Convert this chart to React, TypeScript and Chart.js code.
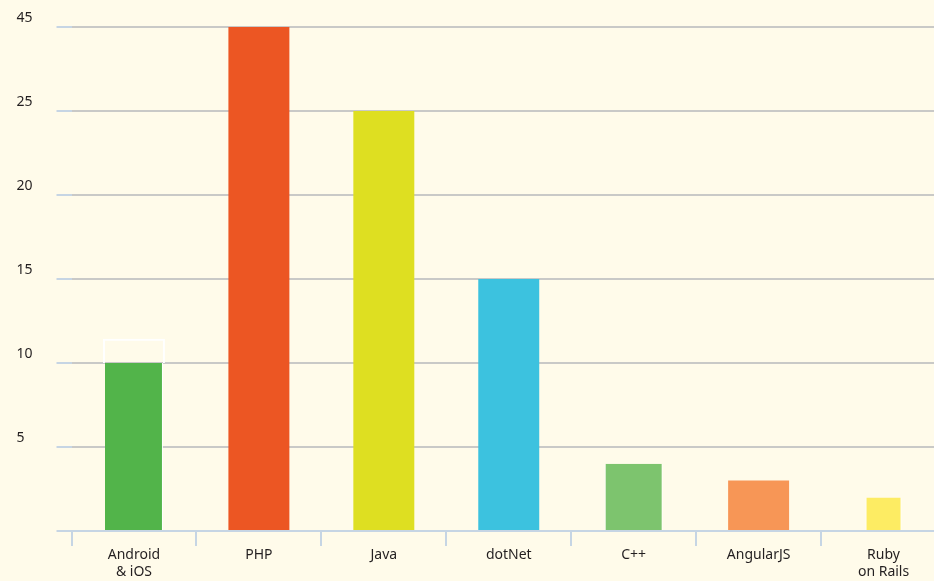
import React, { useEffect, useRef } from "react";
import { Chart, registerables } from "chart.js";

Chart.register(...registerables);

const categories: (string | string[])[] = [
  ["Android", "& iOS"],
  "PHP",
  "Java",
  "dotNet",
  "C++",
  "AngularJS",
  ["Ruby", "on Rails"],
];
const values = [10, 30, 25, 15, 4, 3, 2];
const barColors = ["#52B44A", "#EC5623", "#DEDF21", "#3CC2DF", "#7DC46E", "#F79656", "#FDEC63"];
const barWidthShares = [0.464, 0.488, 0.488, 0.488, 0.464, 0.488, 0.288];
// white outline drawn above the Android bar in the source picture
const androidOutline: [number, number] = [10, 11.45];
const yTickLabels: Record<number, string> = { 5: "5", 10: "10", 15: "15", 20: "20", 25: "25", 30: "45" };

const CREAM = "#FFFBEA";
const GRID = "#C9C9C7";
const BLUE = "#C6D5E4";
const TEXT = "#231F20";
const FONT = "'Noto Sans', sans-serif";

export default function App() {
  const ref = useRef<HTMLCanvasElement | null>(null);

  useEffect(() => {
    document.body.style.margin = "0";
    if (!ref.current) return;

    const datasets: any[] = categories.map((_, i) => ({
      data: values.map((v, j) => (j === i ? v : null)),
      backgroundColor: barColors[i],
      borderColor: "#FFFFFF",
      borderWidth: i === 0 ? { right: 1 } : i >= 4 && i !== 5 ? { left: 1, right: 1 } : 0,
      borderSkipped: false,
      barPercentage: barWidthShares[i],
      categoryPercentage: 1,
      grouped: false,
    }));
    datasets.push({
      data: values.map((_, j) => (j === 0 ? androidOutline : null)),
      backgroundColor: "rgba(0,0,0,0)",
      borderColor: "#FFFFFF",
      borderWidth: { left: 2, right: 2, top: 2, bottom: 0 },
      borderSkipped: false,
      barPercentage: 0.496,
      categoryPercentage: 1,
      grouped: false,
    });

    const bg = {
      id: "bg",
      beforeDraw(chart: any) {
        const c = chart.ctx;
        c.save();
        c.fillStyle = CREAM;
        c.fillRect(0, 0, chart.width, chart.height);
        c.restore();
      },
    };

    const chart = new Chart(ref.current, {
      type: "bar",
      data: { labels: categories as any, datasets },
      plugins: [bg],
      options: {
        animation: false,
        responsive: true,
        maintainAspectRatio: false,
        layout: { padding: { left: 16.5, top: 27, right: 4, bottom: 0 } },
        plugins: { legend: { display: false }, tooltip: { enabled: false } },
        scales: {
          x: {
            offset: true,
            grid: {
              display: true,
              drawOnChartArea: false,
              drawTicks: true,
              tickLength: 15,
              tickColor: BLUE,
              tickWidth: 2,
              color: BLUE,
              lineWidth: 2,
            },
            border: { display: true, color: BLUE, width: 2 },
            ticks: {
              color: TEXT,
              font: { family: FONT, size: 14, lineHeight: 1.2 },
              padding: 1,
              maxRotation: 0,
              autoSkip: false,
            },
            afterFit(scale: any) {
              scale.height = 50;
            },
          },
          y: {
            min: 0,
            max: 30,
            grid: {
              color: (ctx: any) => (ctx.tick && ctx.tick.value === 0 ? BLUE : GRID),
              lineWidth: 2,
              tickLength: 15,
              tickColor: BLUE,
              tickWidth: 2,
            },
            border: { display: false },
            ticks: {
              stepSize: 5,
              color: TEXT,
              font: { family: FONT, size: 14 },
              crossAlign: "far",
              labelOffset: -9,
              callback: (v: any) => yTickLabels[v as number] ?? "",
            },
            afterFit(scale: any) {
              scale.width = 55;
            },
          },
        },
      } as any,
    });
    return () => chart.destroy();
  }, []);

  return (
    <div
      style={{
        position: "fixed",
        left: 0,
        top: 0,
        width: 934,
        height: 581,
        overflow: "hidden",
        background: CREAM,
      }}
    >
      <div style={{ width: 950, height: 581, position: "relative" }}>
        <canvas ref={ref} />
      </div>
    </div>
  );
}
